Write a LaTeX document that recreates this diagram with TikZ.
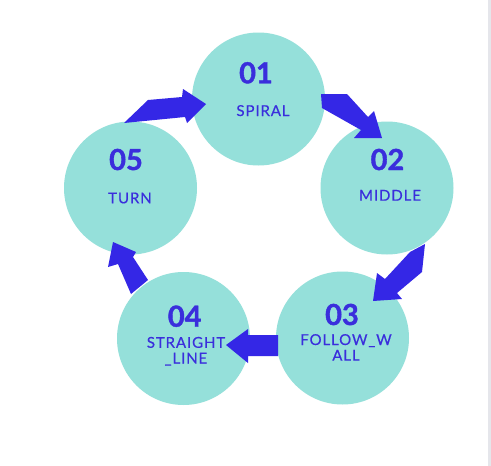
\documentclass[tikz,border=0pt]{standalone}
\usepackage{fontspec}
\setmainfont{Lato}
\newfontfamily\numfont[BoldFeatures={FakeBold=1.3}]{Lato}
\newfontfamily\labfont[LetterSpace=6,FakeBold=0.4]{Lato}
\definecolor{teal}{HTML}{95E0DA}
\definecolor{ink}{HTML}{3A2EDC}
\definecolor{arrowblue}{HTML}{3427E6}
\definecolor{strip}{HTML}{E5E6EB}
\begin{document}
\begin{tikzpicture}[x=1pt,y=-1pt,
  circ/.style={circle,fill=teal,minimum size=133pt,inner sep=0pt},
  num/.style={anchor=base,text=ink,inner sep=0pt,font=\numfont\bfseries\fontsize{29}{29}\selectfont},
  lab/.style={anchor=base,text=ink,inner sep=0pt,font=\labfont\fontsize{15}{15.7}\selectfont,align=center},
  arr/.style={fill=arrowblue}]
\useasboundingbox (0,0) rectangle (491,466);
\fill[white] (0,0) rectangle (491,466);
\fill[strip] (488,0) rectangle (491,466);
% circles
\node[circ] (c1) at (258.5,99) {};
\node[circ] (c2) at (387,188) {};
\node[circ] (c3) at (342.5,338) {};
\node[circ] (c4) at (183.5,338.5) {};
\node[circ] (c5) at (130.5,188) {};
% arrows
\fill[arr] (124,123) -- (148,100) -- (182,97) -- (183,89) -- (206,104) -- (187,123) -- (185,117) -- cycle;
\fill[arr] (321,94) -- (347,94) -- (368,117) -- (374,111) -- (382,138) -- (354,138) -- (361,130) -- (322,108) -- cycle;
\fill[arr] (425,244) -- (422,272) -- (397,293) -- (402,299) -- (373,301) -- (377,273) -- (385,279) -- (410,252) -- cycle;
\fill[arr] (278,335) -- (248,335) -- (248,329) -- (226,345) -- (248,363) -- (248,356) -- (278,356) -- cycle;
\fill[arr] (131,294) -- (118,264) -- (108,267) -- (113,242) -- (136,252) -- (133,257) -- (148,280) -- cycle;
% texts
\node[num] (n1) at (256,83.3) {01};
\node[lab] (l1) at (263,116) {SPIRAL};
\node[num] (n2) at (387.5,170) {02};
\node[lab] (l2) at (390,200.7) {MIDDLE};
\node[num] (n3) at (342,325) {03};
\node[lab] (l3) at (346,360.7) {FOLLOW\_W\\ALL};
\node[num] (n4) at (184.7,326.7) {04};
\node[lab] (l4) at (186,363.5) {STRAIGHT\\\_LINE};
\node[num] (n5) at (126,170) {05};
\node[lab] (l5) at (130,203.3) {TURN};
\end{tikzpicture}
\end{document}
